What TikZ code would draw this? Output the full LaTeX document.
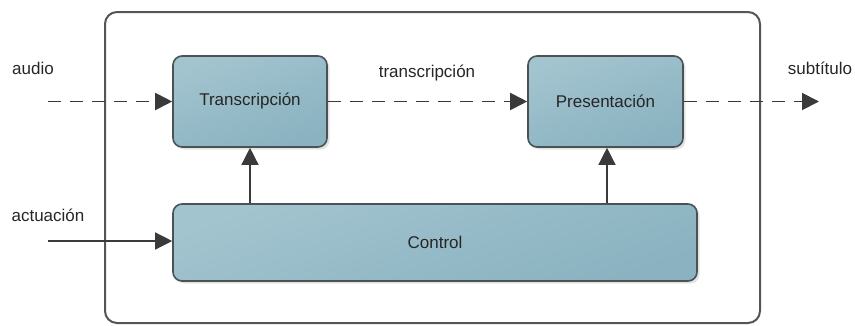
\documentclass[tikz,border=0pt]{standalone}
\usepackage{fontspec}
\setmainfont{Liberation Sans}
\usetikzlibrary{arrows.meta,shadows}
\definecolor{boxtop}{HTML}{A2C4CF}
\definecolor{boxbot}{HTML}{8AB2C0}
\definecolor{boxline}{HTML}{4A5256}
\definecolor{wire}{HTML}{3A3A3A}
\definecolor{frameline}{HTML}{555555}
\begin{document}
\begin{tikzpicture}[x=1pt,y=-1pt,
  block/.style={draw=boxline,line width=1.6pt,rounded corners=9pt,
    top color=boxtop,bottom color=boxbot,shading angle=20,
    drop shadow={shadow xshift=2.5pt,shadow yshift=-2.5pt,fill=black!18,opacity=0.6},
    font=\fontsize{17}{20}\selectfont,text=black!85},
  wirestyle/.style={draw=wire,line width=1.4pt,-{Triangle[length=17pt,width=17pt]}},
  dashwire/.style={wirestyle,line width=1.9pt,dash pattern=on 13pt off 9pt},
  lbl/.style={font=\fontsize{17}{20}\selectfont,text=black!85}]
\useasboundingbox (0,0) rectangle (855,325);
% enclosing system frame
\draw[frameline,line width=2pt,rounded corners=12pt] (105,12) rectangle (760,323);
% processing blocks
\node[block,minimum width=154pt,minimum height=91pt] (tr) at (250,101.5) {Transcripción};
\node[block,minimum width=155pt,minimum height=91pt] (pr) at (605.5,101.5) {Presentación};
\node[block,minimum width=524pt,minimum height=77pt] (ct) at (435,242.5) {Control};
% external ends
\coordinate (ain) at (48,101.5);
\coordinate (sout) at (819,101.5);
\coordinate (actin) at (48,241);
% data flow
\draw[dashwire] (ain) -- (tr.west);
\draw[dashwire] (tr.east) -- (pr.west);
\draw[dashwire] (pr.east) -- (sout);
% control flow
\draw[wirestyle] (actin) -- (ct.west |- actin);
\draw[wirestyle] (ct.north -| 250,0) -- (tr.south);
\draw[wirestyle] (ct.north -| 607,0) -- (pr.south -| 607,0);
% labels
\node[lbl] (la) at (33,68) {audio};
\node[lbl] (lt) at (427,73) {transcripción};
\node[lbl] (ls) at (820,68) {subtítulo};
\node[lbl] (lc) at (48,215) {actuación};
\end{tikzpicture}
\end{document}
